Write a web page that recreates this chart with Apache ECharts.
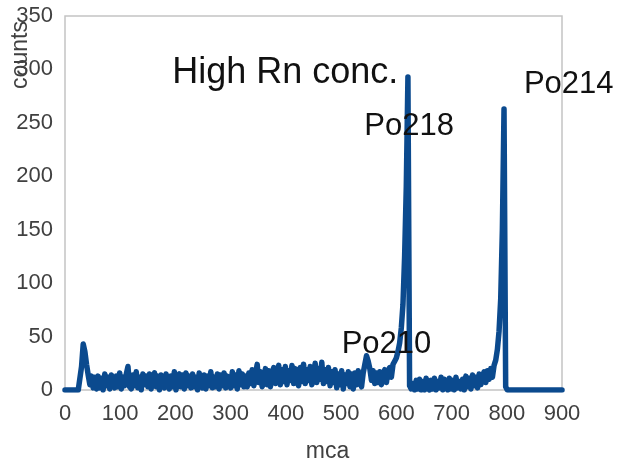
<!DOCTYPE html>
<html>
<head>
<meta charset="utf-8">
<title>High Rn conc.</title>
<script src="https://cdn.jsdelivr.net/npm/echarts@6/dist/echarts.min.js"></script>
<style>
html, body { margin: 0; padding: 0; background: #fff; }
#main { width: 618px; height: 468px; }
</style>
</head>
<body>
<div id="main"></div>
<script>
// mca channel step of the counts table below (one value every 3 channels, 0..900)
var channelStep = 3;

// counts per channel, 10 values per row (30 channels)
var counts = [
    0, 0, 0, 0, 0, 0, 0, 0, 0, 0,          // 0-27
    22, 43, 36, 24, 14, 5, 13, 2, 12, 1,   // 30-57
    13, 2, 11, 0, 15, 4, 12, 1, 14, 5,     // 60-87
    2, 13, 3, 16, 1, 12, 4, 15, 22, 3,     // 90-117
    1, 14, 4, 17, 2, 12, 0, 15, 5, 13,     // 120-147
    3, 15, 1, 12, 16, 3, 13, 0, 14, 4,     // 150-177
    2, 15, 5, 1, 13, 3, 17, 0, 12, 15,     // 180-207
    3, 14, 1, 16, 4, 13, 2, 15, 3, 12,     // 210-237
    0, 16, 5, 2, 14, 1, 13, 4, 17, 2,      // 240-267
    12, 3, 15, 1, 14, 4, 16, 2, 13, 5,     // 270-297
    2, 17, 4, 14, 1, 18, 5, 15, 3, 13,     // 300-327
    3, 16, 6, 19, 4, 15, 24, 7, 17, 3,     // 330-357
    8, 20, 5, 18, 3, 16, 21, 6, 17, 23,    // 360-387
    5, 19, 8, 22, 5, 18, 9, 23, 6, 20,     // 390-417
    10, 4, 21, 8, 24, 6, 19, 9, 22, 5,     // 420-447
    12, 25, 7, 20, 10, 26, 6, 19, 8, 21,   // 450-477
    4, 17, 7, 19, 2, 15, 5, 18, 1, 14,     // 480-507
    6, 17, 3, 15, 1, 16, 5, 18, 7, 3,      // 510-537
    16, 24, 32, 27, 20, 9, 18, 6, 16, 7,   // 540-567
    17, 5, 15, 19, 7, 18, 21, 12, 24, 27,  // 570-597
    30, 36, 44, 58, 80, 125, 190, 293, 4, 1,   // 600-627
    6, 0, 9, 1, 10, 0, 8, 0, 11, 2,        // 630-657
    0, 9, 1, 11, 0, 8, 2, 12, 0, 10,       // 660-687
    3, 0, 11, 1, 9, 0, 12, 2, 8, 1,        // 690-717
    10, 0, 13, 3, 11, 1, 14, 4, 12, 2,     // 720-747
    15, 5, 13, 17, 7, 18, 10, 20, 12, 23,  // 750-777
    28, 38, 55, 85, 150, 263, 3, 0, 0, 0,  // 780-807
    0, 0, 0, 0, 0, 0, 0, 0, 0, 0,          // 810-837
    0, 0, 0, 0, 0, 0, 0, 0, 0, 0,          // 840-867
    0, 0, 0, 0, 0, 0, 0, 0, 0, 0,          // 870-897
    0                                      // 900
];

// peak annotations: [text, channel, counts] where the label starts
var peakLabels = [
    ['High Rn conc.', 194, 297],
    ['Po218', 542, 247],
    ['Po214', 831, 286],
    ['Po210', 501, 43]
];

var xTicks = [0, 900, 100];   // min, max, interval
var yTicks = [0, 350, 50];

var points = [];
for (var i = 0; i < counts.length; i++) {
    points.push([i * channelStep, counts[i]]);
}

var chart = echarts.init(document.getElementById('main'));
var font = 'Liberation Sans, Arial, sans-serif';

var option = {
    animation: false,
    backgroundColor: '#fff',
    grid: {
        left: 65, right: 56, top: 16, bottom: 77,
        show: true,
        borderColor: '#c4c4c4',
        borderWidth: 1.5
    },
    xAxis: {
        type: 'value',
        min: xTicks[0], max: xTicks[1], interval: xTicks[2],
        name: 'mca',
        nameLocation: 'middle',
        nameGap: 50,
        nameTextStyle: { fontFamily: font, fontSize: 23, color: '#404040', padding: [0, 0, 0, 28] },
        axisLine: { show: false },
        axisTick: { show: false },
        splitLine: { show: false },
        axisLabel: { fontFamily: font, fontSize: 22, color: '#404040', margin: 13 }
    },
    yAxis: {
        type: 'value',
        min: yTicks[0], max: yTicks[1], interval: yTicks[2],
        axisLine: { show: false },
        axisTick: { show: false },
        splitLine: { show: false },
        axisLabel: { fontFamily: font, fontSize: 22, color: '#404040', margin: 12 }
    },
    graphic: [{
        type: 'text',
        x: 21, y: 55,
        rotation: Math.PI / 2,
        style: {
            text: 'counts',
            fontFamily: font, fontSize: 23, fill: '#404040',
            textAlign: 'center', textVerticalAlign: 'middle'
        }
    }],
    series: [{
        type: 'line',
        data: points,
        showSymbol: false,
        lineStyle: { color: '#0b4a8e', width: 5.5, cap: 'round', join: 'round' },
        itemStyle: { color: '#0b4a8e' },
        z: 3,
        markPoint: {
            symbolSize: 0,
            silent: true,
            data: peakLabels.map(function (p, k) {
                return {
                    coord: [p[1], p[2]],
                    label: {
                        show: true,
                        position: 'inside',
                        formatter: p[0],
                        align: 'left',
                        verticalAlign: 'middle',
                        fontFamily: font,
                        fontSize: k === 0 ? 36 : 31,
                        color: '#111'
                    }
                };
            })
        }
    }]
};

chart.setOption(option);
</script>
</body>
</html>
